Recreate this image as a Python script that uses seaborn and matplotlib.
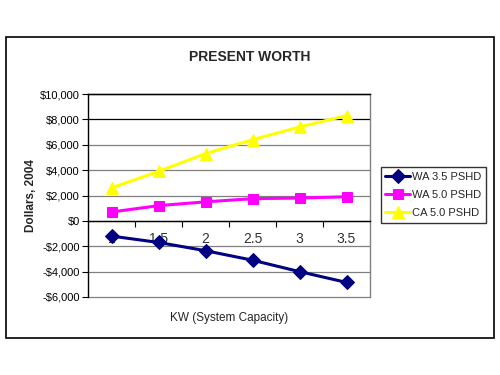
import numpy as np
import pandas as pd
import matplotlib
matplotlib.use('Agg')
import matplotlib.pyplot as plt
import matplotlib.patches as patches
from matplotlib.ticker import FuncFormatter
import seaborn as sns

# data
kw = ['1', '1.5', '2', '2.5', '3', '3.5']
wa_35 = [-1200, -1700, -2350, -3100, -4000, -4850]
wa_50 = [700, 1200, 1500, 1750, 1800, 1900]
ca_50 = [2600, 3900, 5300, 6400, 7400, 8300]
series_names = ['WA 3.5 PSHD', 'WA 5.0 PSHD', 'CA 5.0 PSHD']

sns.set_style('white')
plt.rcParams['font.family'] = ['Liberation Sans', 'DejaVu Sans']

fig = plt.figure(figsize=(5, 3.75), dpi=100)
ax = fig.add_axes([88/500, 1-297/375, (370-88)/500, (297-94)/375])

pos = np.arange(len(kw))
styles = [
    (wa_35, '#000080', 'D', 7),
    (wa_50, '#FF00FF', 's', 7.5),
    (ca_50, '#FFFF00', '^', 8),
]
for (vals, col, mk, ms), name in zip(styles, series_names):
    df = pd.DataFrame({'x': pos, 'y': vals})
    sns.lineplot(data=df, x='x', y='y', ax=ax, color=col, marker=mk,
                 markersize=ms, markeredgecolor=col, linewidth=2.2,
                 label=name, zorder=3)

ax.set_xlim(-0.5, len(kw) - 0.5)
ax.set_ylim(-6000, 10000)
ax.set_yticks(np.arange(-6000, 10001, 2000))
ax.yaxis.set_major_formatter(FuncFormatter(
    lambda v, p: ('-$' if v < 0 else '$') + f'{abs(int(v)):,}'))
ax.tick_params(axis='y', direction='out', length=4, width=0.8, colors='black',
               labelsize=8, left=True, pad=2)
ax.set_xticks(pos)
ax.set_xticklabels(kw, fontsize=8)
ax.set_xticks(np.arange(0.5, len(kw) - 1, 1), minor=True)
ax.tick_params(axis='x', which='major', length=0, pad=8, labelcolor='#333333')
ax.tick_params(axis='x', which='minor', direction='out', length=4, width=0.8,
               bottom=True, colors='black')

ax.grid(axis='y', color='#808080', linewidth=0.9)
ax.grid(axis='x', visible=False)
for gl, t in zip(ax.get_ygridlines(), ax.get_yticks()):
    gl.set_clip_on(False)
    if t >= 8000:
        gl.set_color('black')

ax.spines['bottom'].set_position(('data', 0))
ax.spines['bottom'].set_color('black')
ax.spines['left'].set_color('black')
ax.spines['top'].set_color('black')
ax.spines['right'].set_color('#808080')
for s in ax.spines.values():
    s.set_linewidth(1)

ax.set_xlabel('KW (System Capacity)', fontsize=8.5)
ax.xaxis.set_label_coords(0.5, -0.075)
ax.set_ylabel('Dollars, 2004', fontsize=8.5, fontweight='bold', labelpad=2)

fig.text(0.5, 1 - 57/375, 'PRESENT WORTH', ha='center', va='center',
         fontsize=10, fontweight='bold')

leg = ax.legend(loc='center left', bbox_to_anchor=(381/500, 1 - 195/375),
                bbox_transform=fig.transFigure, fontsize=8, frameon=True,
                fancybox=False, handlelength=2.2, handletextpad=0.2,
                borderpad=0.4, labelspacing=0.75, borderaxespad=0)
leg.get_frame().set_edgecolor('black')
leg.get_frame().set_linewidth(1)

fig.patches.append(patches.Rectangle((6/500, 1 - 338/375), 488/500, 301/375,
                                     transform=fig.transFigure, fill=False,
                                     edgecolor='black', linewidth=1.2))

fig.savefig('out.png', dpi=100)
